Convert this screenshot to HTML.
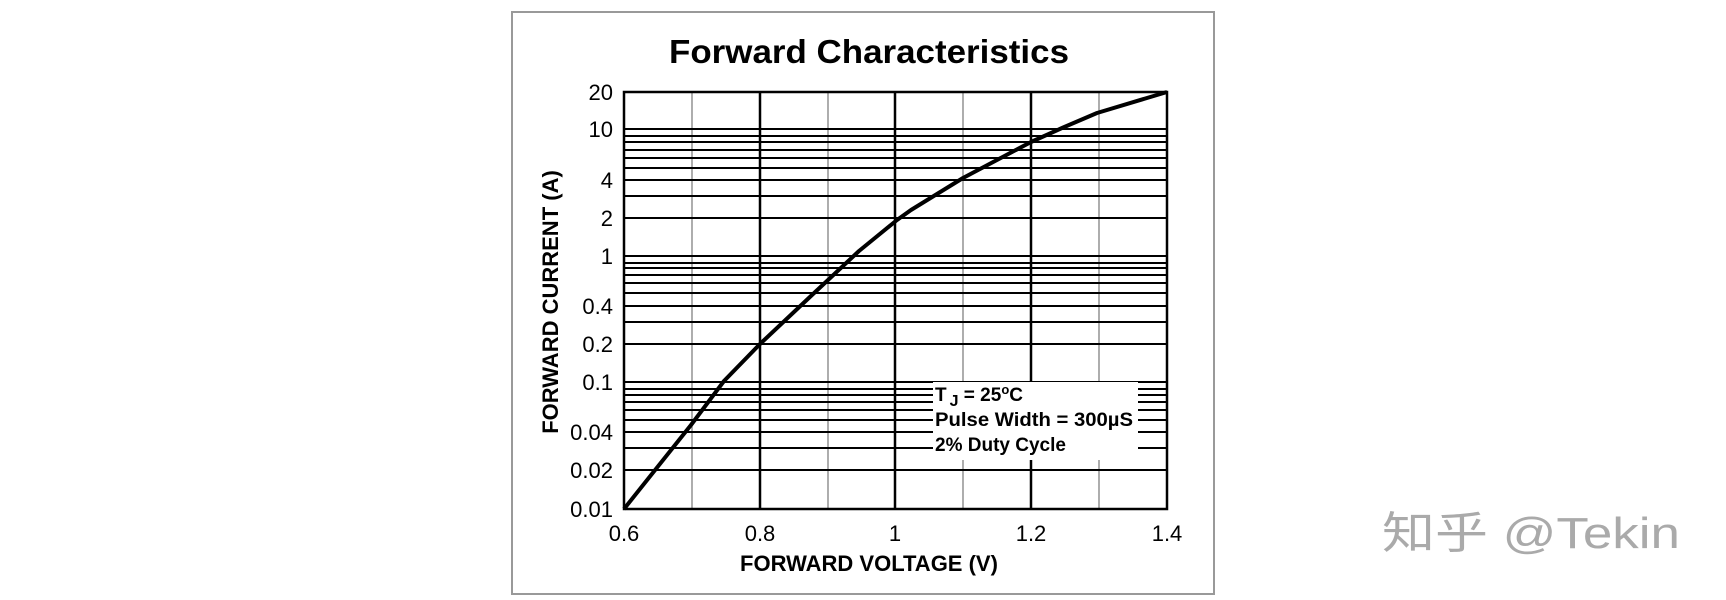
<!DOCTYPE html>
<html><head><meta charset="utf-8"><style>
html,body{margin:0;padding:0;background:#fff;}
svg{display:block;}
</style></head><body>
<svg width="1726" height="600" viewBox="0 0 1726 600" xmlns="http://www.w3.org/2000/svg" font-family="Liberation Sans, Arial, sans-serif">
<rect x="0" y="0" width="1726" height="600" fill="#fff"/>
<rect x="512" y="12" width="702" height="582" fill="none" stroke="#999" stroke-width="2"/>
<text x="869" y="63" text-anchor="middle" font-size="33" font-weight="bold" textLength="400" lengthAdjust="spacingAndGlyphs">Forward Characteristics</text>
<g stroke="#000">
<line x1="692" y1="92" x2="692" y2="509" stroke="#777" stroke-width="1.2"/>
<line x1="828" y1="92" x2="828" y2="509" stroke="#777" stroke-width="1.2"/>
<line x1="963" y1="92" x2="963" y2="509" stroke="#777" stroke-width="1.2"/>
<line x1="1099" y1="92" x2="1099" y2="509" stroke="#777" stroke-width="1.2"/>
<line x1="760" y1="92" x2="760" y2="509" stroke-width="2.5"/>
<line x1="895" y1="92" x2="895" y2="509" stroke-width="2.5"/>
<line x1="1031" y1="92" x2="1031" y2="509" stroke-width="2.5"/>
<g stroke-width="2">
<line x1="624" y1="129" x2="1167" y2="129"/><line x1="624" y1="136" x2="1167" y2="136"/><line x1="624" y1="142" x2="1167" y2="142"/><line x1="624" y1="150" x2="1167" y2="150"/><line x1="624" y1="158" x2="1167" y2="158"/><line x1="624" y1="168" x2="1167" y2="168"/><line x1="624" y1="180" x2="1167" y2="180"/><line x1="624" y1="196" x2="1167" y2="196"/><line x1="624" y1="218" x2="1167" y2="218"/>
<line x1="624" y1="256" x2="1167" y2="256"/><line x1="624" y1="263" x2="1167" y2="263"/><line x1="624" y1="268" x2="1167" y2="268"/><line x1="624" y1="275" x2="1167" y2="275"/><line x1="624" y1="283" x2="1167" y2="283"/><line x1="624" y1="293" x2="1167" y2="293"/><line x1="624" y1="306" x2="1167" y2="306"/><line x1="624" y1="322" x2="1167" y2="322"/><line x1="624" y1="344" x2="1167" y2="344"/>
<line x1="624" y1="382" x2="1167" y2="382"/><line x1="624" y1="389" x2="1167" y2="389"/><line x1="624" y1="395" x2="1167" y2="395"/><line x1="624" y1="402" x2="1167" y2="402"/><line x1="624" y1="410" x2="1167" y2="410"/><line x1="624" y1="420" x2="1167" y2="420"/><line x1="624" y1="432" x2="1167" y2="432"/><line x1="624" y1="448" x2="1167" y2="448"/><line x1="624" y1="470" x2="1167" y2="470"/>
</g>
</g>
<rect x="933" y="382" width="205" height="78" fill="#fff"/>
<rect x="624" y="92" width="543" height="417" fill="none" stroke="#000" stroke-width="2.5"/>
<polyline fill="none" stroke="#000" stroke-width="4" stroke-linejoin="round" points="624,509 691,425 724,381 760,344 812,295 859,251 897,220 911,210 963,178 1031,142 1062,128 1097,113 1167,92"/>
<g font-size="19" font-weight="bold">
<text x="935" y="401">T<tspan font-size="16" dy="5" dx="3">J</tspan><tspan dy="-5"> = 25</tspan><tspan font-size="13" dy="-7">o</tspan><tspan dy="7">C</tspan></text>
<text x="935" y="426" textLength="198" lengthAdjust="spacingAndGlyphs">Pulse Width = 300µS</text>
<text x="935" y="451">2% Duty Cycle</text>
</g>
<g font-size="22" text-anchor="end">
<text x="613" y="100">20</text><text x="613" y="137">10</text><text x="613" y="188">4</text><text x="613" y="226">2</text><text x="613" y="264">1</text><text x="613" y="314">0.4</text><text x="613" y="352">0.2</text><text x="613" y="390">0.1</text><text x="613" y="440">0.04</text><text x="613" y="478">0.02</text><text x="613" y="517">0.01</text>
</g>
<g font-size="22" text-anchor="middle">
<text x="624" y="541">0.6</text><text x="760" y="541">0.8</text><text x="895" y="541">1</text><text x="1031" y="541">1.2</text><text x="1167" y="541">1.4</text>
</g>
<text x="869" y="571" text-anchor="middle" font-size="22" font-weight="bold">FORWARD VOLTAGE (V)</text>
<text transform="translate(558,302) rotate(-90)" text-anchor="middle" font-size="22" font-weight="bold">FORWARD CURRENT (A)</text>
<text x="1382" y="548" font-size="44" fill="#aaa" font-family="Liberation Sans, Noto Sans CJK SC, sans-serif" textLength="298" lengthAdjust="spacingAndGlyphs">知乎 @Tekin</text>
</svg>
</body></html>
